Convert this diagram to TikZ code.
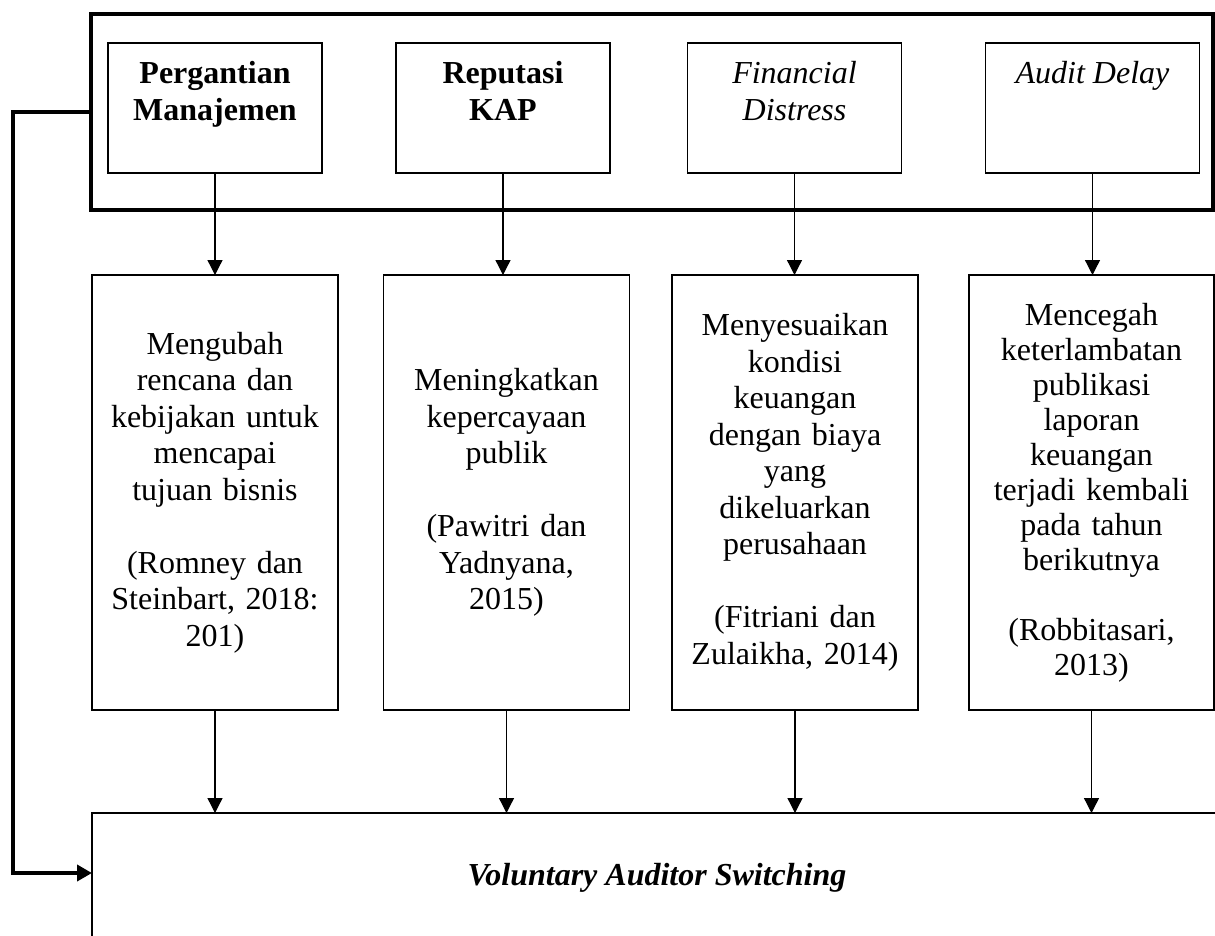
\documentclass[tikz,border=0pt]{standalone}
\usepackage{fontspec}
\setmainfont{Liberation Serif}
\usetikzlibrary{arrows.meta,positioning}
\tikzset{
  varbox/.style={draw, line width=1.3pt, minimum width=214pt, minimum height=130pt,
    inner sep=0pt, outer sep=0pt, font=\fontsize{32}{36.5}\selectfont},
  basisbox/.style={draw, line width=1.3pt, minimum width=246pt, minimum height=435pt,
    inner sep=0pt, outer sep=0pt, align=center, text width=236pt,
    font=\fontsize{32}{36.5}\selectfont},
  framebox/.style={draw, line width=4.2pt, minimum width=1122pt, minimum height=196pt,
    inner sep=0pt, outer sep=0pt},
  arr/.style={line width=1.3pt, -{Triangle[length=15pt,width=15pt]}},
  fbline/.style={line width=4.2pt, -{Triangle[length=15pt,width=16pt]}}
}
\newcommand{\toptext}[1]{\parbox[c][100pt][t]{210pt}{\centering\strut #1}}
\begin{document}
\begin{tikzpicture}[x=1pt,y=-1pt]
\useasboundingbox (0,0) rectangle (1215,935);
\clip (0,0) rectangle (1215,935);
\fill[white] (0,0) rectangle (1215,935);

\node[framebox] (frame) at (652,112) {};
\node[varbox] (pm) at (215,108) {\toptext{\textbf{Pergantian}\\\textbf{Manajemen}}};
\node[varbox] (kap) at (503,108) {\toptext{\textbf{Reputasi}\\\textbf{KAP}}};
\node[varbox] (fd) at (794.5,108) {\toptext{\textit{Financial}\\\textit{Distress}}};
\node[varbox] (ad) at (1092.5,108) {\toptext{\textit{Audit Delay}}};

\node[basisbox] (mpm) at (215,492.5) {Mengubah\\rencana dan\\kebijakan untuk\\mencapai\\tujuan bisnis\\[36.5pt](Romney dan\\Steinbart, 2018:\\201)};
\node[basisbox] (mkap) at (506.5,492.5) {Meningkatkan\\kepercayaan\\publik\\[36.5pt](Pawitri dan\\Yadnyana,\\2015)};
\node[basisbox] (mfd) at (795,492.5) {Menyesuaikan\\kondisi\\keuangan\\dengan biaya\\yang\\dikeluarkan\\perusahaan\\[36.5pt](Fitriani dan\\Zulaikha, 2014)};
\node[basisbox, minimum width=245pt, font=\fontsize{32}{35}\selectfont] (mad) at (1091.5,492.5) {Mencegah\\keterlambatan\\publikasi\\laporan\\keuangan\\terjadi kembali\\pada tahun\\berikutnya\\[35pt](Robbitasari,\\2013)};

\node[draw, line width=1.3pt, minimum width=1130pt, minimum height=130pt, inner sep=0pt,
  outer sep=0pt, anchor=north west, font=\fontsize{32}{36.5}\selectfont] (vas) at (92,813)
  {\textbf{\textit{Voluntary Auditor Switching}}};

\foreach \a/\b in {pm/mpm, kap/mkap, fd/mfd, ad/mad}{
  \draw[arr] (\a.south) -- (\a.south |- \b.north);
  \draw[arr] (\b.south) -- (\b.south |- vas.north);
}

\draw[fbline] (frame.west) -- ++(-78,0) |- ([yshift=5pt]vas.west);
\end{tikzpicture}
\end{document}
